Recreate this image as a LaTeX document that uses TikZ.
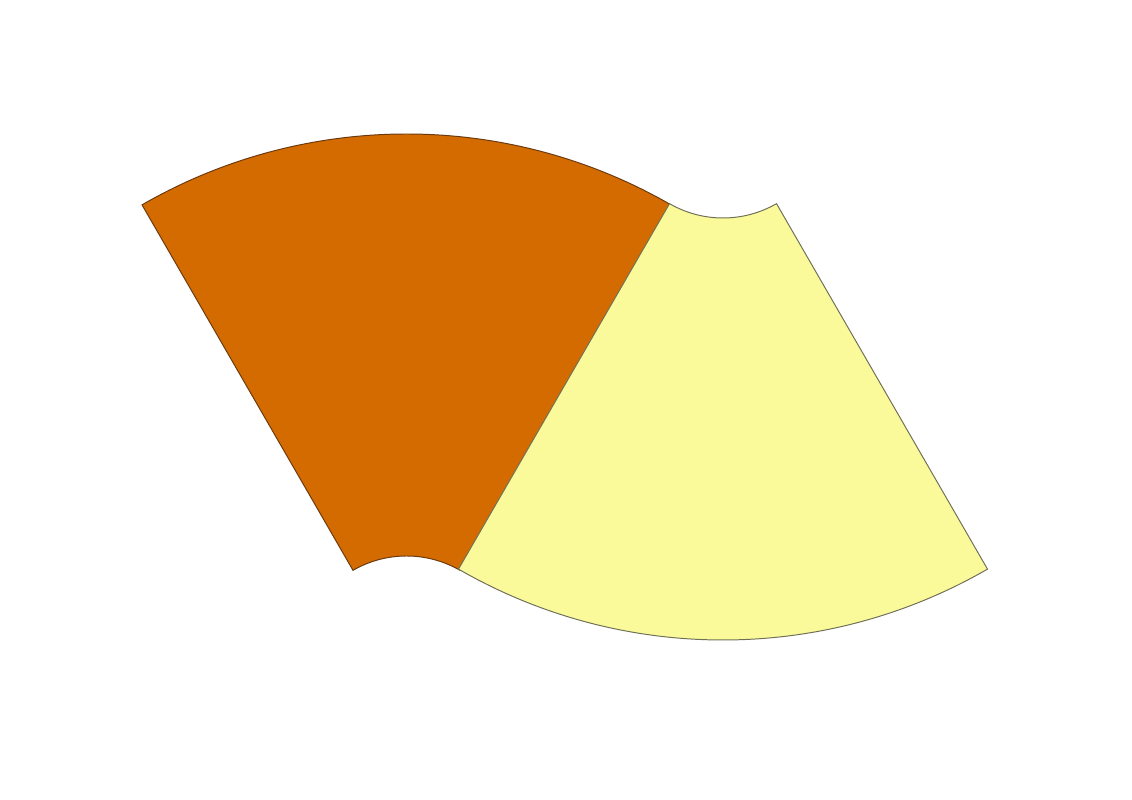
\documentclass[tikz,border=0pt]{standalone}
\usepackage{tikz}
\usetikzlibrary{calc}

\definecolor{sectorOrange}{HTML}{D46B00}
\definecolor{sectorYellow}{HTML}{FAFA9A}
\definecolor{edgeBrown}{HTML}{6B3A10}
\definecolor{edgeOlive}{HTML}{707058}

\begin{document}
\begin{tikzpicture}[x=0.025cm, y=0.025cm]

    % Page frame
    \useasboundingbox (0,0) rectangle (1132,800);

    % Centres of the two sectors and radii
    \coordinate (O1) at (406.5,137);
    \coordinate (O2) at (723,689);
    \def\outerR{529}
    \def\innerR{107}

    % Left sector (orange)
    \filldraw[fill=sectorOrange, draw=edgeBrown, line width=0.7pt]
        ($(O1)+(120:\innerR)$) -- ($(O1)+(120:\outerR)$)
        arc[start angle=120, end angle=60, radius=\outerR]
        -- ($(O1)+(60:\innerR)$)
        arc[start angle=60, end angle=120, radius=\innerR] -- cycle;

    % Right sector (yellow)
    \filldraw[fill=sectorYellow, draw=edgeOlive, line width=0.7pt]
        ($(O2)+(300:\innerR)$) -- ($(O2)+(300:\outerR)$)
        arc[start angle=300, end angle=240, radius=\outerR]
        -- ($(O2)+(240:\innerR)$)
        arc[start angle=240, end angle=300, radius=\innerR] -- cycle;

\end{tikzpicture}
\end{document}
